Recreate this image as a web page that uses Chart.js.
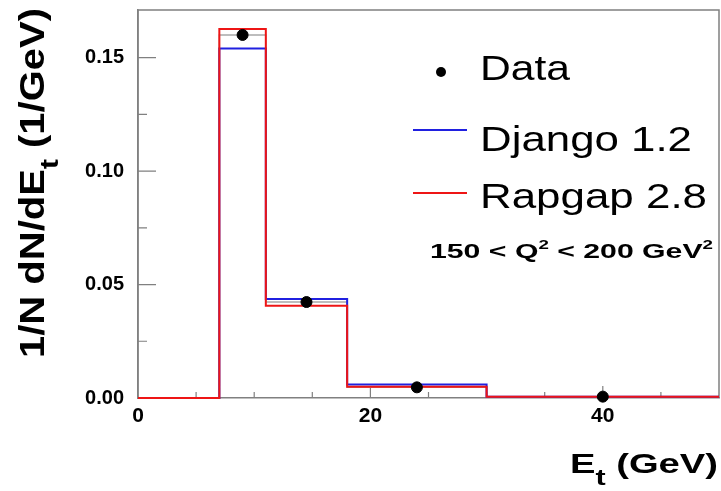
<!DOCTYPE html>
<html>
<head>
<meta charset="utf-8">
<title>Et distribution</title>
<script src="https://cdn.jsdelivr.net/npm/chart.js@4.4.1/dist/chart.umd.min.js"></script>
<style>
  html, body { margin: 0; padding: 0; background: #fff; }
  #wrap { width: 721px; height: 491px; }
</style>
</head>
<body>
<div id="wrap"><canvas id="etChart" width="721" height="491"></canvas></div>
<script>
// histogram bins (GeV) and per-bin values
const binEdges = [0, 7, 11, 18, 30, 50];
const djangoValues = [0, 0.154, 0.0436, 0.0060, 0.0006];
const rapgapValues = [0, 0.1626, 0.0407, 0.0050, 0.0006];
const dataEt = [9, 14.5, 24, 40];
const dataValues = [0.160, 0.0423, 0.0047, 0.0006];
const yTicks = [0, 0.05, 0.10, 0.15];
const xTicks = [0, 20, 40];

const FONT = '"Liberation Sans", Arial, sans-serif';
const AXIS_GREY = "#808080";
const BLUE = "#2020e0";
const RED = "#ee1515";

// one point per bin edge; the last bin repeats its value at the upper edge
function stepPoints(values) {
  return binEdges.map((x, i) => ({ x: x, y: values[Math.min(i, values.length - 1)] }));
}

// draws a run of text pieces (sub/superscripts), stretched to a given length
function drawRich(ctx, parts, o) {
  ctx.save();
  ctx.translate(o.x, o.y);
  if (o.rotate) ctx.rotate(o.rotate);
  ctx.fillStyle = "#000";
  ctx.textBaseline = "alphabetic";
  ctx.textAlign = "left";
  let natural = 0;
  parts.forEach(p => {
    ctx.font = `${o.weight} ${o.size * (p.scale || 1)}px ${FONT}`;
    natural += ctx.measureText(p.text).width;
  });
  const sx = o.width ? o.width / natural : 1;
  const total = natural * sx;
  let start = 0;
  if (o.align === "right") start = -total;
  if (o.align === "center") start = -total / 2;
  ctx.scale(sx, 1);
  let cx = start / sx;
  parts.forEach(p => {
    ctx.font = `${o.weight} ${o.size * (p.scale || 1)}px ${FONT}`;
    ctx.fillText(p.text, cx, (p.dy || 0) * o.size);
    cx += ctx.measureText(p.text).width;
  });
  ctx.restore();
}

// frame + inward ticks, drawn under the histograms
const framePlugin = {
  id: "frame",
  beforeDatasetsDraw(chart) {
    const ctx = chart.ctx;
    const a = chart.chartArea;
    const xs = chart.scales.x;
    const ys = chart.scales.y;
    ctx.save();
    ctx.strokeStyle = AXIS_GREY;
    ctx.lineWidth = 1.5;
    ctx.beginPath();
    ctx.moveTo(a.left, a.bottom);
    ctx.lineTo(a.left, a.top);
    ctx.lineTo(a.right, a.top);
    ctx.lineTo(a.right, a.bottom);
    ctx.stroke();

    ctx.lineWidth = 1.2;
    ctx.beginPath();
    for (let v = 5; v < 50; v += 5) {
      const px = xs.getPixelForValue(v);
      const len = v % 20 === 0 ? 12 : 6;
      ctx.moveTo(px, a.bottom);
      ctx.lineTo(px, a.bottom - len);
    }
    for (let i = 1; i <= 6; i++) {
      const v = i * 0.025;
      const py = ys.getPixelForValue(v);
      const len = i % 2 === 0 ? 18 : 9;
      ctx.moveTo(a.left, py);
      ctx.lineTo(a.left + len, py);
    }
    ctx.stroke();
    ctx.restore();
  }
};

const labelsPlugin = {
  id: "labels",
  afterDraw(chart) {
    const ctx = chart.ctx;

    // axis titles
    drawRich(ctx, [
      { text: "1/N dN/dE" },
      { text: "t", scale: 0.75, dy: 0.4 },
      { text: " (1/GeV)" }
    ], { x: 44, y: 358, size: 35, weight: "bold", width: 350, rotate: -Math.PI / 2 });

    drawRich(ctx, [
      { text: "E" },
      { text: "t", scale: 0.8, dy: 0.42 },
      { text: " (GeV)" }
    ], { x: 718, y: 473, size: 28, weight: "bold", width: 148, align: "right" });

    // legend
    const ds = chart.data.datasets;
    ctx.save();
    ds.forEach(d => {
      if (!d.legendRow) return;
      const r = d.legendRow;
      if (d.showLine === false) {
        ctx.fillStyle = d.backgroundColor;
        ctx.beginPath();
        ctx.arc(441, r.y - 8, 5, 0, Math.PI * 2);
        ctx.fill();
      } else {
        ctx.strokeStyle = d.borderColor;
        ctx.lineWidth = 2;
        ctx.beginPath();
        ctx.moveTo(413, r.lineY);
        ctx.lineTo(467, r.lineY);
        ctx.stroke();
      }
      drawRich(ctx, [{ text: d.label }], { x: 480, y: r.y, size: 35, weight: "normal", width: r.width });
    });
    ctx.restore();

    drawRich(ctx, [
      { text: "150 < Q" },
      { text: "2", scale: 0.62, dy: -0.45 },
      { text: " < 200 GeV" },
      { text: "2", scale: 0.62, dy: -0.45 }
    ], { x: 430, y: 258, size: 21, weight: "bold", width: 283 });
  }
};

new Chart(document.getElementById("etChart"), {
  type: "line",
  data: {
    datasets: [
      {
        label: "Data band",
        data: stepPoints([0, ...dataValues]),
        stepped: "before",
        borderColor: "#a8a8a8",
        borderWidth: 1.5,
        pointRadius: 0,
        clip: false,
        order: 4
      },
      {
        label: "Django 1.2",
        data: stepPoints(djangoValues),
        stepped: "before",
        borderColor: BLUE,
        borderWidth: 2,
        pointRadius: 0,
        clip: false,
        order: 3,
        legendRow: { y: 151, lineY: 130, width: 212 }
      },
      {
        label: "Rapgap 2.8",
        data: stepPoints(rapgapValues),
        stepped: "before",
        borderColor: RED,
        borderWidth: 2,
        pointRadius: 0,
        clip: false,
        order: 2,
        legendRow: { y: 208, lineY: 193, width: 227 }
      },
      {
        label: "Data",
        data: dataEt.map((x, i) => ({ x: x, y: dataValues[i] })),
        showLine: false,
        backgroundColor: "#000",
        borderColor: "#000",
        pointRadius: 5.5,
        pointHoverRadius: 5.5,
        clip: false,
        order: 1,
        legendRow: { y: 80, width: 90 }
      }
    ]
  },
  options: {
    responsive: false,
    animation: false,
    layout: { autoPadding: false, padding: { left: 0, top: 10, right: 2, bottom: 0 } },
    plugins: {
      legend: { display: false },
      tooltip: { enabled: false }
    },
    scales: {
      x: {
        type: "linear",
        min: 0,
        max: 50,
        afterFit(scale) {
          scale.height = 93;
          scale.paddingLeft = 0;
          scale.paddingRight = 0;
        },
        afterBuildTicks(scale) { scale.ticks = xTicks.map(v => ({ value: v })); },
        grid: { display: false, drawTicks: false },
        border: { display: true, color: AXIS_GREY, width: 1.5 },
        ticks: {
          padding: 6,
          color: "#000",
          font: { family: FONT, size: 21, weight: "bold" },
          maxRotation: 0,
          autoSkip: false
        }
      },
      y: {
        type: "linear",
        min: 0,
        max: 0.171,
        afterFit(scale) {
          scale.width = 138;
          scale.paddingTop = 0;
          scale.paddingBottom = 0;
        },
        afterBuildTicks(scale) { scale.ticks = yTicks.map(v => ({ value: v })); },
        grid: { display: false, drawTicks: false },
        border: { display: true, color: AXIS_GREY, width: 1.5 },
        ticks: {
          padding: 14,
          color: "#000",
          font: { family: FONT, size: 20, weight: "bold" },
          callback: v => v.toFixed(2)
        }
      }
    }
  },
  plugins: [framePlugin, labelsPlugin]
});
</script>
</body>
</html>
